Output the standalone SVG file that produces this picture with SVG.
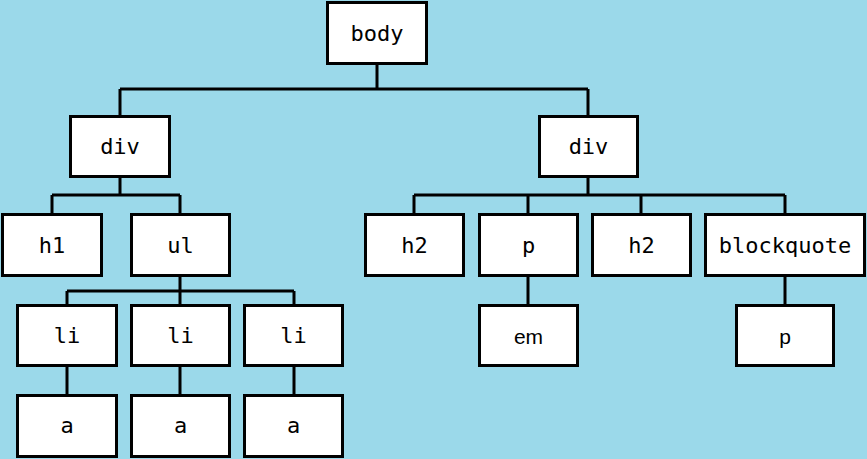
<svg xmlns="http://www.w3.org/2000/svg" width="867" height="459" viewBox="0 0 867 459">
<style>
rect.n{fill:#fff;stroke:#000;stroke-width:3}
text{font-family:"DejaVu Sans Mono","Liberation Mono",monospace;font-size:22px;text-anchor:middle;fill:#000}
text.s{font-family:"Liberation Sans",Arial,sans-serif;font-size:21px}
#edges path{fill:none;stroke:#000;stroke-width:3}
</style>
<rect width="867" height="459" fill="#9bd9ea"/>
<g id="edges">
<path d="M377 64V89M120 89H588M120 89V116M588 89V116"/>
<path d="M120 177V195M52 195H180M52 195V214M180 195V214"/>
<path d="M180 276V291M67 291H294M67 291V305M180 291V305M294 291V305"/>
<path d="M67 366V395M180 366V395M294 366V395"/>
<path d="M588 177V195M414 195H785M414 195V214M528 195V214M641 195V214M785 195V214"/>
<path d="M528 276V305M785 276V305"/>
</g>
<g id="body"><rect class="n" x="327.5" y="2.5" width="99" height="61"/><text x="377" y="41">body</text></g>
<g id="div1"><rect class="n" x="70.5" y="116.5" width="99" height="60"/><text x="120" y="154">div</text></g>
<g id="div2"><rect class="n" x="539.5" y="116.5" width="98" height="60"/><text x="588.5" y="154">div</text></g>
<g id="h1"><rect class="n" x="2.5" y="214.5" width="99" height="61"/><text x="52" y="253">h1</text></g>
<g id="ul"><rect class="n" x="131.5" y="214.5" width="98" height="61"/><text x="180.5" y="253">ul</text></g>
<g id="h2a"><rect class="n" x="365.5" y="214.5" width="98" height="61"/><text x="414.5" y="253">h2</text></g>
<g id="p1"><rect class="n" x="479.5" y="214.5" width="98" height="61"/><text x="528.5" y="253">p</text></g>
<g id="h2b"><rect class="n" x="592.5" y="214.5" width="98" height="61"/><text x="641.5" y="253">h2</text></g>
<g id="blockquote"><rect class="n" x="705.5" y="214.5" width="159" height="61"/><text x="785" y="253">blockquote</text></g>
<g id="li1"><rect class="n" x="17.5" y="305.5" width="99" height="60"/><text x="67" y="343">li</text></g>
<g id="li2"><rect class="n" x="131.5" y="305.5" width="98" height="60"/><text x="180.5" y="343">li</text></g>
<g id="li3"><rect class="n" x="244.5" y="305.5" width="98" height="60"/><text x="293.5" y="343">li</text></g>
<g id="em"><rect class="n" x="479.5" y="305.5" width="98" height="60"/><text class="s" x="528.5" y="344">em</text></g>
<g id="p2"><rect class="n" x="736.5" y="305.5" width="97" height="60"/><text class="s" x="785" y="344">p</text></g>
<g id="a1"><rect class="n" x="17.5" y="395.5" width="99" height="61"/><text x="67" y="433">a</text></g>
<g id="a2"><rect class="n" x="131.5" y="395.5" width="98" height="61"/><text x="180.5" y="433">a</text></g>
<g id="a3"><rect class="n" x="244.5" y="395.5" width="98" height="61"/><text x="293.5" y="433">a</text></g>
</svg>
